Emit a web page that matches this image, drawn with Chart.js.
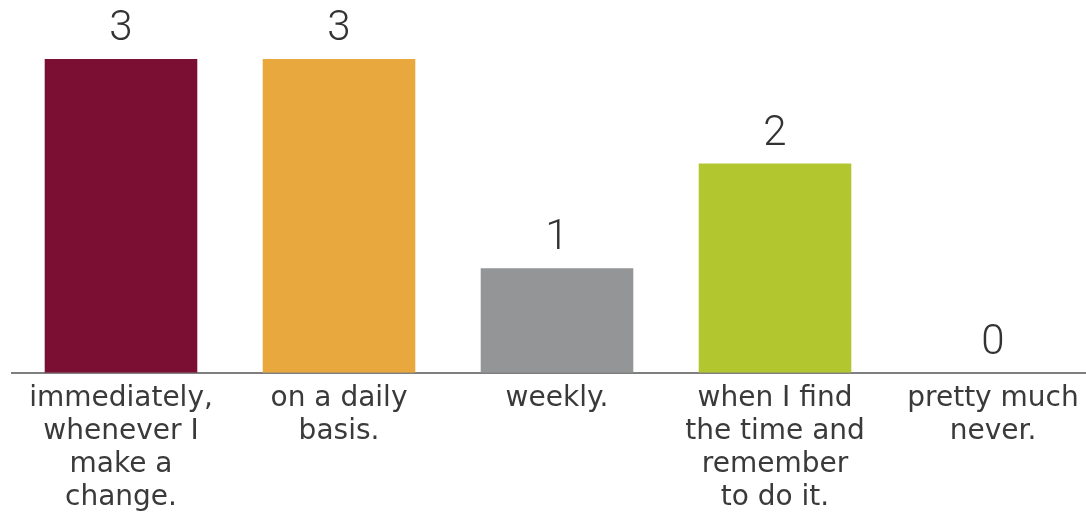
<!DOCTYPE html>
<html>
<head>
<meta charset="utf-8">
<script src="https://cdn.jsdelivr.net/npm/chart.js@4.4.1/dist/chart.umd.min.js"></script>
<style>
  html, body { margin: 0; padding: 0; background: #ffffff; overflow: hidden; }
  #wrap { position: relative; width: 1102px; height: 513px; }
</style>
</head>
<body>
<div id="wrap"><canvas id="chart"></canvas></div>
<script>
// Survey answers: how often the respondent saves/backs up their work
const categories = [
  ['immediately,', 'whenever I', 'make a', 'change.'],
  ['on a daily', 'basis.'],
  ['weekly.'],
  ['when I find', 'the time and', 'remember', 'to do it.'],
  ['pretty much', 'never.']
];
const responses = [3, 3, 1, 2, 0];
const barColors = ['#7b0f33', '#e8a83e', '#939596', '#b2c72f', '#cccccc'];

// Draws each bar's count centred above it
const valueLabels = {
  id: 'valueLabels',
  afterDatasetsDraw(chart) {
    const ctx = chart.ctx;
    const meta = chart.getDatasetMeta(0);
    ctx.save();
    ctx.font = '300 42px Roboto, "DejaVu Sans", sans-serif';
    ctx.fillStyle = '#333333';
    ctx.textAlign = 'center';
    ctx.textBaseline = 'alphabetic';
    meta.data.forEach((bar, i) => {
      ctx.fillText(String(responses[i]), bar.x, bar.y - 19);
    });
    ctx.restore();
  }
};

new Chart(document.getElementById('chart'), {
  type: 'bar',
  data: {
    labels: categories,
    datasets: [{
      data: responses,
      backgroundColor: barColors,
      borderWidth: 0,
      categoryPercentage: 0.70,
      barPercentage: 1.0
    }]
  },
  options: {
    responsive: true,
    maintainAspectRatio: false,
    animation: false,
    layout: { padding: { top: 59, left: 12, right: 0, bottom: -10 } },
    plugins: { legend: { display: false }, tooltip: { enabled: false } },
    scales: {
      x: {
        grid: { display: false, drawTicks: false },
        border: { display: true, color: '#7f7f7f', width: 2 },
        ticks: {
          color: '#3a3a3a',
          padding: 9,
          maxRotation: 0,
          autoSkip: false,
          font: { family: '"DejaVu Sans", sans-serif', size: 28, lineHeight: 1.18 }
        }
      },
      y: {
        display: false,
        min: 0,
        max: 3
      }
    }
  },
  plugins: [valueLabels]
});
</script>
</body>
</html>
